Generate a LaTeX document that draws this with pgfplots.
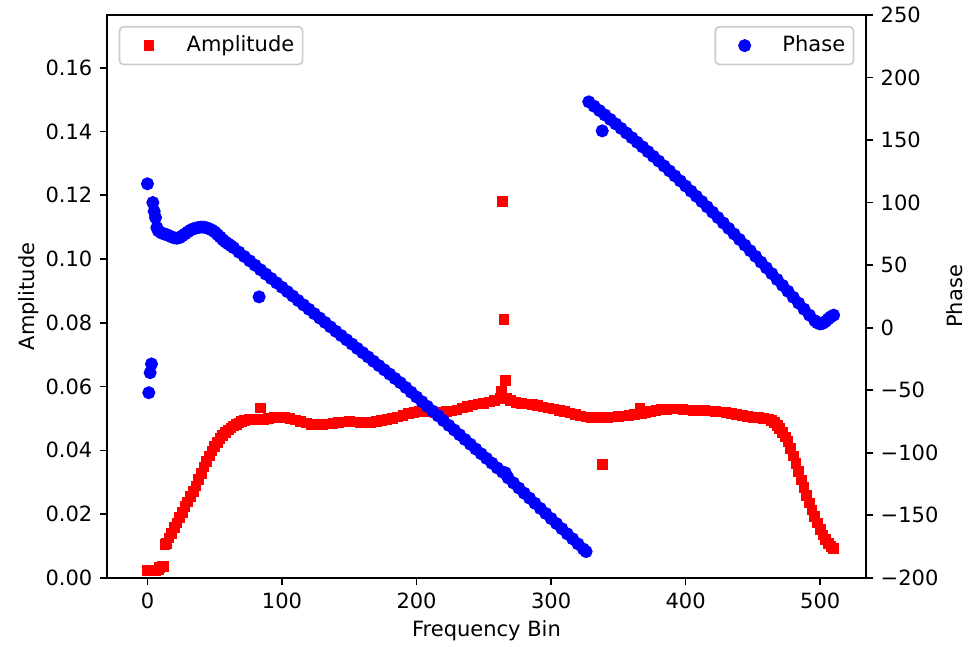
\documentclass[border=0pt]{standalone}
\usepackage{fontspec}
\setmainfont{DejaVu Sans}
\usepackage{pgfplots}
\usepackage{pgfplotstable}
\pgfplotsset{compat=1.18}

\pgfplotstableread{
bin amp
0 0.0022
1 0.0022
2 0.0022
3 0.0022
4 0.0022
5 0.0022
6 0.0024
7 0.0025
8 0.0025
9 0.0032
10 0.0034
11 0.0035
12 0.0036
13 0.0104
14 0.0108
16 0.0125
18 0.0140
20 0.0158
22 0.0172
24 0.0190
26 0.0205
28 0.0223
30 0.0238
32 0.0255
34 0.0270
36 0.0288
38 0.0308
40 0.0328
42 0.0348
44 0.0365
46 0.0382
48 0.0398
50 0.0412
52 0.0425
54 0.0437
56 0.0447
58 0.0456
60 0.0464
62 0.0470
64 0.0476
66 0.0481
68 0.0486
70 0.0490
72 0.0493
74 0.0495
76 0.0496
78 0.0497
80 0.0497
82 0.0497
84 0.0533
86 0.0497
88 0.0498
90 0.0500
94 0.0502
98 0.0503
102 0.0504
106 0.0500
110 0.0495
114 0.0490
118 0.0486
122 0.0482
126 0.0480
130 0.0481
134 0.0483
138 0.0485
142 0.0487
146 0.0489
150 0.0490
154 0.0489
158 0.0488
162 0.0487
166 0.0488
170 0.0490
174 0.0493
178 0.0496
182 0.0500
186 0.0505
190 0.0510
194 0.0515
198 0.0519
202 0.0521
206 0.0521
210 0.0520
214 0.0519
218 0.0520
222 0.0521
226 0.0523
230 0.0527
234 0.0533
238 0.0538
242 0.0542
246 0.0545
250 0.0548
254 0.0552
258 0.0557
262 0.0562
263 0.0585
264 0.1180
265 0.0810
266 0.0619
267 0.0563
270 0.0556
274 0.0549
278 0.0546
282 0.0545
286 0.0543
290 0.0540
294 0.0536
298 0.0533
302 0.0530
306 0.0526
310 0.0522
314 0.0517
318 0.0512
322 0.0508
326 0.0505
330 0.0503
334 0.0502
338 0.0355
339 0.0502
342 0.0503
346 0.0505
350 0.0507
354 0.0508
358 0.0510
362 0.0512
366 0.0533
367 0.0514
370 0.0518
374 0.0522
378 0.0525
382 0.0528
386 0.0529
390 0.0530
394 0.0530
398 0.0529
402 0.0527
406 0.0526
410 0.0525
414 0.0524
418 0.0523
422 0.0522
426 0.0520
430 0.0518
434 0.0516
438 0.0513
442 0.0510
446 0.0507
450 0.0504
454 0.0502
458 0.0501
462 0.0498
464 0.0494
466 0.0487
468 0.0479
470 0.0468
472 0.0455
474 0.0442
476 0.0427
478 0.0405
480 0.0382
482 0.0358
484 0.0333
486 0.0307
488 0.0283
490 0.0258
492 0.0235
494 0.0213
496 0.0192
498 0.0172
500 0.0152
502 0.0134
504 0.0120
506 0.0108
508 0.0098
510 0.0092
}\amptable

\pgfplotstableread{
bin phase
0 115
1 -52
2 -36
3 -29
4 100
5 93
6 88
7 80
8 77.5
10 76
12 75
14 74.5
16 73.5
18 72.5
20 71.8
22 71.5
24 72
26 73.5
28 75
30 76.5
32 78
34 79
36 79.6
38 80.1
40 80.4
42 80.3
44 79.8
46 79
48 78
50 76.5
52 74.5
54 72.5
56 70.3
58 68.5
60 67
62 65.5
64 63.9
68 60.4
72 56.9
76 53.4
80 49.9
83 24.6
84 46.3
88 42.8
92 39.3
96 35.8
100 32.3
104 28.8
108 25.3
112 21.7
116 18.2
120 14.7
124 11.2
128 7.7
132 4.2
136 0.6
140 -2.9
144 -6.3
148 -9.7
152 -13.1
156 -16.6
160 -20.0
164 -23.4
168 -26.9
172 -30.3
176 -33.7
180 -37.1
184 -40.6
188 -44.0
192 -47.8
196 -51.6
200 -55.4
204 -59.2
208 -62.9
212 -66.7
216 -70.5
220 -74.3
224 -78.1
228 -81.8
232 -85.6
236 -89.4
240 -93.2
244 -97.0
248 -100.8
252 -104.5
256 -108.3
260 -112.1
264 -115.5
266 -116.0
268 -120.1
272 -124.1
276 -128.2
280 -132.3
284 -136.3
288 -140.4
292 -144.5
296 -148.5
300 -152.6
304 -156.6
308 -160.7
312 -164.8
316 -168.8
320 -172.9
324 -177.0
326 -179.0
328 180.5
332 177.0
336 173.5
338 157.3
340 170.0
344 166.5
348 162.9
352 159.3
356 155.6
360 151.9
364 148.2
368 144.5
372 140.7
376 136.9
380 133.1
384 129.2
388 125.3
392 121.3
396 117.3
400 113.2
404 109.1
408 105.0
412 100.8
416 96.6
420 92.3
424 88.0
428 83.7
432 79.3
436 74.9
440 70.5
444 66.0
448 61.5
452 57.0
456 52.4
460 47.8
464 43.2
468 38.5
472 33.8
476 29.1
480 24.3
484 19.6
488 14.8
492 10.0
496 5.6
498 3.8
500 3.0
502 3.5
504 5.0
506 7.0
508 8.8
510 10.0
}\phasetable

\begin{document}
\begin{tikzpicture}
\pgfplotsset{
  common/.style={
    width=361.4pt, height=268.1pt, scale only axis,
    xmin=-30, xmax=534,
    at={(0pt,0pt)}, anchor=south west,
    tick align=outside, major tick length=3.5pt,
    tick style={black, line width=0.8pt},
    axis line style={line width=0.8pt, black},
    tick label style={font=\fontsize{10}{12}\selectfont, black},
    label style={font=\fontsize{10}{12}\selectfont, black},
    legend style={draw=black!20, line width=0.8pt, rounded corners=2pt, fill=white,
      inner xsep=4pt, inner ysep=4pt, column sep=8pt,
      font=\fontsize{10}{12}\selectfont,
      nodes={inner sep=0pt, text height=7.6pt, text depth=2.4pt}},
    legend image code/.code={%
      \path[draw=none,fill=none] (0pt,-3pt) (20pt,3pt);
      \draw[mark repeat=2,mark phase=2] plot coordinates {(0pt,0pt)(10pt,0pt)(20pt,0pt)};},
  }
}
\begin{axis}[common,
  ymin=0, ymax=0.1766,
  xtick={0,100,200,300,400,500}, xticklabels={0,100,200,300,400,500},
  ytick={0,0.02,0.04,0.06,0.08,0.10,0.12,0.14,0.16},
  yticklabels={0.00,0.02,0.04,0.06,0.08,0.10,0.12,0.14,0.16},
  xtick pos=bottom, ytick pos=left,
  xlabel={Frequency Bin}, ylabel={Amplitude},
  xlabel style={at={(axis description cs:0.5,-0.0941)}, anchor=center},
  ylabel style={at={(axis description cs:-0.1028,0.5)}, anchor=center},
  legend style={at={(axis description cs:0.0152,0.9805)}, anchor=north west},
]
\addplot[only marks, mark=square*, color=red, mark size=2.15pt, mark options={line width=0.8pt}] table[x=bin,y=amp]{\amptable};
\addlegendentry{Amplitude}
\end{axis}
\begin{axis}[common,
  ymin=-200, ymax=250,
  axis x line=none, axis y line*=right,
  ytick={-200,-150,-100,-50,0,50,100,150,200,250},
  yticklabels={−200,−150,−100,−50,0,50,100,150,200,250},
  ylabel={Phase},
  ylabel style={at={(axis description cs:1.1175,0.5)}, anchor=center},
  legend style={at={(axis description cs:0.9848,0.9805)}, anchor=north east},
]
\addplot[only marks, mark=*, color=blue, mark size=2.7pt, mark options={line width=0.8pt}] table[x=bin,y=phase]{\phasetable};
\addlegendentry{Phase}
\end{axis}
\pgfresetboundingbox
\path[use as bounding box] (-51pt,-32.9pt) rectangle (410pt,275.2pt);
\end{tikzpicture}
\end{document}
